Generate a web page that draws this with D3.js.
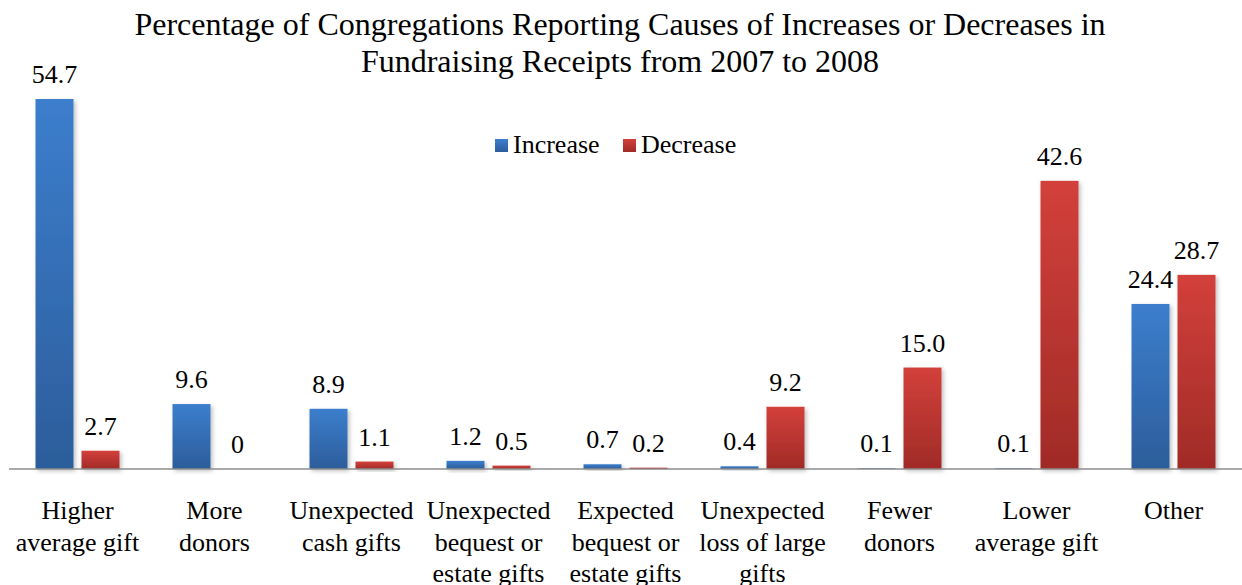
<!DOCTYPE html>
<html>
<head>
<meta charset="utf-8">
<script src="https://cdn.jsdelivr.net/npm/d3@7"></script>
<style>
  html, body { margin: 0; padding: 0; background: #fff; }
  svg { display: block; }
  svg text, svg tspan { font-family: "Liberation Serif", serif !important; }
</style>
</head>
<body>
<svg id="chart" width="1242" height="585"></svg>
<script>
const categories = [
  ["Higher", "average gift"],
  ["More", "donors"],
  ["Unexpected", "cash gifts"],
  ["Unexpected", "bequest or", "estate gifts"],
  ["Expected", "bequest or", "estate gifts"],
  ["Unexpected", "loss of large", "gifts"],
  ["Fewer", "donors"],
  ["Lower", "average gift"],
  ["Other"]
];
const seriesNames = ["Increase", "Decrease"];
const increaseValues = [54.7, 9.6, 8.9, 1.2, 0.7, 0.4, 0.1, 0.1, 24.4];
const decreaseValues = [2.7, 0, 1.1, 0.5, 0.2, 9.2, 15.0, 42.6, 28.7];
const titleLines = [
  "Percentage of Congregations Reporting Causes of Increases or Decreases in",
  "Fundraising Receipts from 2007 to 2008"
];

const FONT = '"Liberation Serif", serif';
const svg = d3.select("#chart");
const W = 1242;
const baseY = 469;

const defs = svg.append("defs");
const grads = [
  {id: "gInc", top: "#3c7ecd", bottom: "#2c5d9b"},
  {id: "gDec", top: "#d3403b", bottom: "#a02b27"}
];
grads.forEach(g => {
  const lg = defs.append("linearGradient").attr("id", g.id)
    .attr("x1", 0).attr("y1", 0).attr("x2", 0).attr("y2", 1);
  lg.append("stop").attr("offset", "0%").attr("stop-color", g.top);
  lg.append("stop").attr("offset", "100%").attr("stop-color", g.bottom);
});
const f = defs.append("filter").attr("id", "shadow")
  .attr("x", "-20%").attr("y", "-20%").attr("width", "160%").attr("height", "160%");
f.append("feDropShadow").attr("dx", 2).attr("dy", 2).attr("stdDeviation", 2)
  .attr("flood-color", "#000").attr("flood-opacity", 0.25);

const catKeys = categories.map((c, i) => i);
const x0 = d3.scaleBand().domain(catKeys).range([9, 1242])
  .paddingInner(0.387).paddingOuter(0.1935);
const x1 = d3.scaleBand().domain(seriesNames).range([0, x0.bandwidth()])
  .paddingInner(0.174).paddingOuter(0);
const y = d3.scaleLinear().domain([0, 60]).range([baseY, baseY - 60 * 6.764]);

const color = {Increase: "url(#gInc)", Decrease: "url(#gDec)"};
const valuesBy = {Increase: increaseValues, Decrease: decreaseValues};

// Title
svg.append("g").selectAll("text").data(titleLines).join("text")
  .attr("x", 620).attr("y", (d, i) => 35 + i * 37)
  .attr("text-anchor", "middle").attr("font-family", FONT).attr("font-size", 32)
  .attr("fill", "#000").text(d => d);

// Bars
const groups = svg.append("g").selectAll("g").data(catKeys).join("g")
  .attr("transform", i => `translate(${x0(i)},0)`);

groups.selectAll("rect").data(i => seriesNames.map(s => ({s, v: valuesBy[s][i]})))
  .join("rect")
  .attr("x", d => x1(d.s)).attr("width", x1.bandwidth())
  .attr("y", d => y(d.v)).attr("height", d => baseY - y(d.v))
  .attr("fill", d => color[d.s])
  .attr("filter", "url(#shadow)");

const fmt = v => v === 0 ? "0" : v.toFixed(1);
groups.selectAll("text.val").data(i => seriesNames.map(s => ({s, v: valuesBy[s][i]})))
  .join("text").attr("class", "val")
  .attr("x", d => x1(d.s) + x1.bandwidth() / 2)
  .attr("y", d => y(d.v) - 16)
  .attr("text-anchor", "middle").attr("font-family", FONT).attr("font-size", 26)
  .text(d => fmt(d.v));

// Axis line
svg.append("line").attr("x1", 9).attr("x2", W).attr("y1", baseY).attr("y2", baseY)
  .attr("stroke", "#8c8c8c").attr("stroke-width", 1.5);

// Category labels
groups.append("text")
  .attr("text-anchor", "middle").attr("font-family", FONT).attr("font-size", 26)
  .selectAll("tspan").data(i => categories[i]).join("tspan")
  .attr("x", x0.bandwidth() / 2)
  .attr("y", (d, j) => 519 + j * 31.5)
  .text(d => d);

// Legend
const legendItems = [
  {s: "Increase", x: 495},
  {s: "Decrease", x: 623}
];
const lg = svg.append("g");
lg.selectAll("rect").data(legendItems).join("rect")
  .attr("x", d => d.x).attr("y", 139).attr("width", 13).attr("height", 13)
  .attr("fill", d => color[d.s]);
lg.selectAll("text").data(legendItems).join("text")
  .attr("x", d => d.x + 18).attr("y", 153)
  .attr("font-family", FONT).attr("font-size", 26).text(d => d.s);
</script>
</body>
</html>
